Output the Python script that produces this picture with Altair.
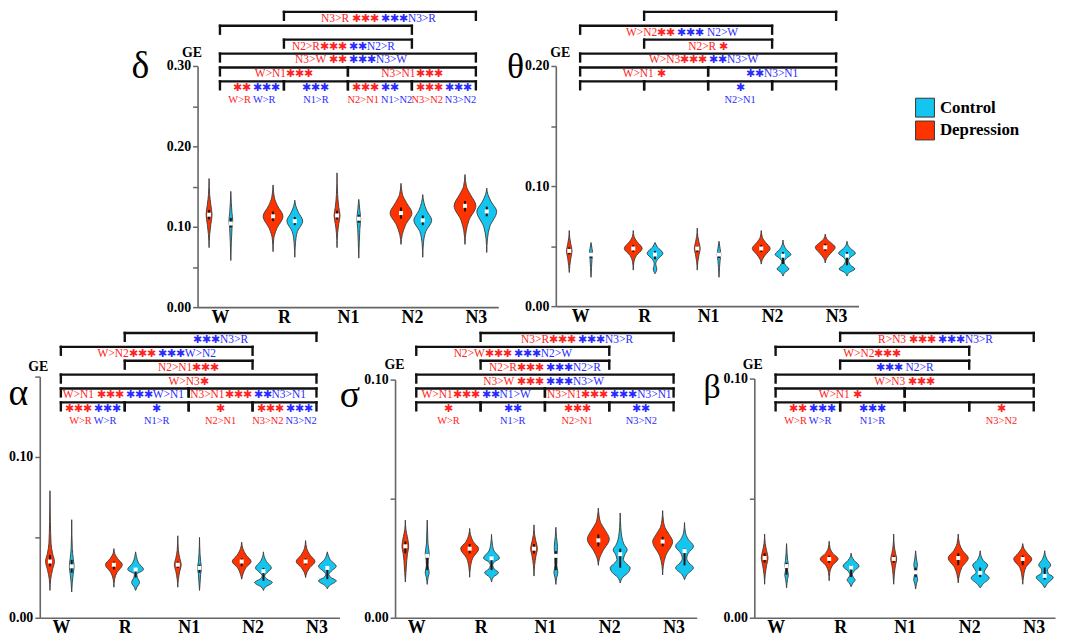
import altair as alt
import pandas as pd

CATS = ["W", "R", "N1", "N2", "N3"]
GROUP_ORDER = ["Control", "Depression"]
GROUP_COLORS = ["#14c6ef", "#ff3300"]
TEXT_RED = "#ff2222"
TEXT_BLUE = "#2a2aff"

# ---------------- δ ----------------
DELTA_TICKS = [0.0, 0.05, 0.10, 0.15, 0.20, 0.25, 0.30]
DELTA_DEP_MED = [0.115, 0.113, 0.114, 0.117, 0.126]
DELTA_DEP_IQR = [(0.109, 0.121), (0.107, 0.119), (0.109, 0.120), (0.110, 0.124), (0.119, 0.132)]
DELTA_DEP_SHAPE = [
    [(0.074, 0), (0.090, 0.6), (0.103, 1.8), (0.115, 3), (0.127, 1.8), (0.140, 0.6), (0.160, 0)],
    [(0.069, 0), (0.085, 0.7), (0.097, 3.5), (0.113, 10), (0.126, 4.5), (0.137, 1.2), (0.152, 0)],
    [(0.074, 0), (0.092, 0.6), (0.104, 1.8), (0.114, 3), (0.124, 1.8), (0.140, 0.6), (0.167, 0)],
    [(0.078, 0), (0.090, 1.2), (0.102, 4.5), (0.117, 11), (0.130, 5.5), (0.140, 1.5), (0.154, 0)],
    [(0.078, 0), (0.095, 1.2), (0.108, 4), (0.126, 11), (0.140, 5.5), (0.150, 1.5), (0.165, 0)],
]
DELTA_CON_MED = [0.104, 0.107, 0.110, 0.108, 0.119]
DELTA_CON_IQR = [(0.099, 0.111), (0.102, 0.112), (0.105, 0.115), (0.102, 0.114), (0.113, 0.125)]
DELTA_CON_SHAPE = [
    [(0.058, 0), (0.080, 0.5), (0.098, 1.2), (0.108, 1.9), (0.118, 1.1), (0.130, 0.5), (0.144, 0)],
    [(0.062, 0), (0.080, 0.7), (0.094, 2.6), (0.107, 8), (0.118, 3.6), (0.126, 1), (0.133, 0)],
    [(0.061, 0), (0.080, 0.5), (0.098, 1.1), (0.110, 1.9), (0.120, 1.1), (0.128, 0.5), (0.134, 0)],
    [(0.062, 0), (0.080, 0.7), (0.094, 3), (0.108, 9), (0.120, 4), (0.130, 1.2), (0.140, 0)],
    [(0.068, 0), (0.085, 0.7), (0.100, 3), (0.119, 10), (0.131, 4.5), (0.140, 1.2), (0.148, 0)],
]
DELTA_BRACKETS = [
    (6, "R", "N3", "N3>R ***", "***N3>R", "", ""),
    (5, "W", "N2", "", "", "", ""),
    (4, "R", "N2", "N2>R***", "**N2>R", "", ""),
    (3, "W", "N3", "N3>W **", "***N3>W", "", ""),
    (2, "W", "N1", "W>N1***", "", "", ""),
    (2, "N1", "N3", "N3>N1***", "", "", ""),
    (1, "W", "R", "**", "***", "W>R", "W>R"),
    (1, "R", "N1", "", "***", "", "N1>R"),
    (1, "N1", "N2", "***", "**", "N2>N1", "N1>N2"),
    (1, "N2", "N3", "***", "***", "N3>N2", "N3>N2"),
]

# ---------------- θ ----------------
THETA_TICKS = [0.0, 0.05, 0.10, 0.15, 0.20]
THETA_DEP_MED = [0.046, 0.048, 0.048, 0.048, 0.049]
THETA_DEP_IQR = [(0.043, 0.049), (0.045, 0.051), (0.045, 0.050), (0.045, 0.051), (0.046, 0.052)]
THETA_DEP_SHAPE = [
    [(0.028, 0), (0.034, 0.6), (0.040, 1.6), (0.046, 2.8), (0.052, 1.5), (0.057, 0.5), (0.063, 0)],
    [(0.030, 0), (0.037, 0.7), (0.042, 3), (0.048, 9), (0.054, 3.5), (0.058, 0.8), (0.063, 0)],
    [(0.030, 0), (0.037, 0.6), (0.043, 1.8), (0.048, 3), (0.053, 1.8), (0.058, 0.6), (0.065, 0)],
    [(0.035, 0), (0.039, 1.2), (0.043, 4.5), (0.048, 9), (0.053, 4.5), (0.057, 1.2), (0.063, 0)],
    [(0.036, 0), (0.040, 1.5), (0.044, 5.5), (0.049, 10), (0.053, 5.5), (0.056, 1.5), (0.060, 0)],
]
THETA_CON_MED = [0.043, 0.043, 0.043, 0.042, 0.042]
THETA_CON_IQR = [(0.040, 0.045), (0.039, 0.046), (0.040, 0.045), (0.035, 0.045), (0.034, 0.045)]
THETA_CON_SHAPE = [
    [(0.024, 0), (0.032, 0.5), (0.039, 1), (0.044, 1.6), (0.048, 1), (0.053, 0)],
    [(0.027, 0), (0.031, 1.8), (0.035, 0.7), (0.039, 2.6), (0.044, 8), (0.049, 2.6), (0.053, 0)],
    [(0.024, 0), (0.032, 0.5), (0.038, 1.1), (0.043, 1.8), (0.048, 1.1), (0.054, 0)],
    [(0.025, 0), (0.028, 1.8), (0.031, 6), (0.034, 2.6), (0.037, 1.2), (0.040, 3.6), (0.043, 8), (0.047, 3.6), (0.051, 0.8), (0.055, 0)],
    [(0.025, 0), (0.028, 2.2), (0.031, 8), (0.034, 3.6), (0.038, 1.6), (0.041, 4), (0.044, 8.5), (0.048, 3.6), (0.051, 0.8), (0.054, 0)],
]
THETA_BRACKETS = [
    (6, "R", "N3", "", "", "", ""),
    (5, "W", "N2", "W>N2**", "*** N2>W", "", ""),
    (4, "R", "N2", "N2>R *", "", "", ""),
    (3, "W", "N3", "W>N3***", "**N3>W", "", ""),
    (2, "W", "N1", "W>N1 *", "", "", ""),
    (2, "N1", "N3", "", "**N3>N1", "", ""),
    (1, "W", "R", "", "", "", ""),
    (1, "R", "N1", "", "", "", ""),
    (1, "N1", "N2", "", "*", "", "N2>N1"),
    (1, "N2", "N3", "", "", "", ""),
]

# ---------------- α ----------------
ALPHA_TICKS = [0.0, 0.05, 0.10, 0.15]
ALPHA_DEP_MED = [0.035, 0.033, 0.033, 0.035, 0.035]
ALPHA_DEP_IQR = [(0.032, 0.039), (0.030, 0.035), (0.031, 0.035), (0.032, 0.037), (0.033, 0.037)]
ALPHA_DEP_SHAPE = [
    [(0.017, 0), (0.024, 0.7), (0.030, 2.6), (0.035, 4.5), (0.040, 2.6), (0.046, 1.1), (0.060, 0.4), (0.079, 0)],
    [(0.019, 0), (0.024, 0.7), (0.028, 3), (0.033, 8.5), (0.037, 3.5), (0.040, 0.8), (0.043, 0)],
    [(0.019, 0), (0.024, 0.6), (0.029, 2), (0.033, 3.5), (0.037, 2), (0.042, 0.6), (0.051, 0)],
    [(0.024, 0), (0.027, 1.2), (0.031, 4), (0.035, 9.5), (0.039, 4.5), (0.043, 1.2), (0.047, 0)],
    [(0.025, 0), (0.028, 1.2), (0.031, 4), (0.035, 9.5), (0.039, 4.5), (0.043, 1.2), (0.048, 0)],
]
ALPHA_CON_MED = [0.032, 0.030, 0.031, 0.029, 0.031]
ALPHA_CON_IQR = [(0.028, 0.036), (0.025, 0.031), (0.028, 0.033), (0.023, 0.031), (0.024, 0.032)]
ALPHA_CON_SHAPE = [
    [(0.016, 0), (0.022, 0.6), (0.027, 1.5), (0.032, 2.4), (0.037, 1.5), (0.043, 0.6), (0.061, 0)],
    [(0.017, 0), (0.019, 1.3), (0.022, 4), (0.025, 1.8), (0.027, 1.2), (0.030, 8), (0.034, 3), (0.038, 0.8), (0.041, 0)],
    [(0.017, 0), (0.022, 0.6), (0.027, 1.1), (0.031, 2), (0.035, 1.1), (0.040, 0.5), (0.050, 0)],
    [(0.017, 0), (0.019, 1.8), (0.022, 9), (0.024, 3.6), (0.026, 1.2), (0.028, 3.6), (0.031, 8), (0.035, 3), (0.038, 0.8), (0.041, 0)],
    [(0.018, 0), (0.020, 2.2), (0.023, 9), (0.025, 3.6), (0.027, 1.6), (0.029, 4), (0.032, 9), (0.036, 3), (0.039, 0.8), (0.041, 0)],
]
ALPHA_BRACKETS = [
    (6, "R", "N3", "", "***N3>R", "", ""),
    (5, "W", "N2", "W>N2***", "***W>N2", "", ""),
    (4, "R", "N2", "N2>N1***", "", "", ""),
    (3, "W", "N3", "W>N3*", "", "", ""),
    (2, "W", "N1", "W>N1 ***", "***W>N1", "", ""),
    (2, "N1", "N3", "N3>N1***", "**N3>N1", "", ""),
    (1, "W", "R", "***", "***", "W>R", "W>R"),
    (1, "R", "N1", "", "*", "", "N1>R"),
    (1, "N1", "N2", "*", "", "N2>N1", ""),
    (1, "N2", "N3", "***", "***", "N3>N2", "N3>N2"),
]

# ---------------- σ ----------------
SIGMA_TICKS = [0.0, 0.05, 0.10]
SIGMA_DEP_MED = [0.030, 0.029, 0.029, 0.0325, 0.032]
SIGMA_DEP_IQR = [(0.027, 0.032), (0.027, 0.031), (0.027, 0.031), (0.030, 0.035), (0.030, 0.034)]
SIGMA_DEP_SHAPE = [
    [(0.015, 0), (0.019, 0.6), (0.024, 1.4), (0.027, 2.2), (0.030, 3.4), (0.034, 2), (0.037, 0.6), (0.041, 0)],
    [(0.017, 0), (0.021, 0.7), (0.025, 3), (0.029, 9), (0.032, 3.5), (0.035, 0.8), (0.0375, 0)],
    [(0.0175, 0), (0.022, 0.6), (0.026, 2), (0.029, 3.4), (0.032, 2), (0.035, 0.6), (0.039, 0)],
    [(0.022, 0), (0.025, 1.2), (0.028, 4.5), (0.033, 11), (0.037, 6.5), (0.040, 2.2), (0.043, 0.7), (0.046, 0)],
    [(0.018, 0), (0.022, 0.7), (0.026, 3), (0.032, 10), (0.035, 6.5), (0.038, 2.2), (0.041, 0.7), (0.045, 0)],
]
SIGMA_CON_MED = [0.026, 0.025, 0.026, 0.0267, 0.028]
SIGMA_CON_IQR = [(0.020, 0.027), (0.020, 0.026), (0.020, 0.028), (0.021, 0.029), (0.022, 0.029)]
SIGMA_CON_SHAPE = [
    [(0.014, 0), (0.017, 0.9), (0.019, 2), (0.022, 0.8), (0.024, 1), (0.027, 2), (0.031, 0.8), (0.036, 0.4), (0.041, 0)],
    [(0.015, 0), (0.017, 1.8), (0.019, 7), (0.0205, 2.6), (0.022, 1.2), (0.0235, 3), (0.025, 8), (0.028, 2.6), (0.031, 0.8), (0.035, 0)],
    [(0.014, 0), (0.017, 0.9), (0.019, 2), (0.022, 0.9), (0.026, 1.2), (0.030, 1.6), (0.034, 0.6), (0.038, 0)],
    [(0.0146, 0), (0.017, 2.6), (0.019, 8), (0.021, 10), (0.023, 5.5), (0.0245, 3.2), (0.0265, 4.6), (0.0285, 7), (0.031, 3.6), (0.034, 1.6), (0.038, 0.6), (0.044, 0)],
    [(0.016, 0), (0.018, 2.2), (0.021, 9), (0.023, 4.5), (0.025, 2.2), (0.027, 3.6), (0.030, 9), (0.033, 3.6), (0.036, 0.8), (0.040, 0)],
]
SIGMA_BRACKETS = [
    (6, "R", "N3", "N3>R***", "***N3>R", "", ""),
    (5, "W", "N2", "N2>W***", "***N2>W", "", ""),
    (4, "R", "N2", "N2>R***", "***N2>R", "", ""),
    (3, "W", "N3", "N3>W ***", "***N3>W", "", ""),
    (2, "W", "N1", "W>N1***", "**N1>W", "", ""),
    (2, "N1", "N3", "N3>N1***", "***N3>N1", "", ""),
    (1, "W", "R", "*", "", "W>R", ""),
    (1, "R", "N1", "", "**", "", "N1>R"),
    (1, "N1", "N2", "***", "", "N2>N1", ""),
    (1, "N2", "N3", "", "**", "", "N3>N2"),
]

# ---------------- β ----------------
BETA_TICKS = [0.0, 0.05, 0.10]
BETA_DEP_MED = [0.025, 0.0246, 0.0246, 0.025, 0.0246]
BETA_DEP_IQR = [(0.023, 0.027), (0.023, 0.026), (0.023, 0.026), (0.022, 0.027), (0.022, 0.026)]
BETA_DEP_SHAPE = [
    [(0.014, 0), (0.018, 0.6), (0.022, 2), (0.025, 3.4), (0.028, 2), (0.031, 0.6), (0.035, 0)],
    [(0.0155, 0), (0.019, 0.7), (0.022, 3.5), (0.0246, 9), (0.027, 3.5), (0.029, 1), (0.032, 0)],
    [(0.014, 0), (0.018, 0.6), (0.022, 1.8), (0.0246, 3), (0.027, 1.8), (0.030, 0.6), (0.035, 0)],
    [(0.0146, 0), (0.018, 1.2), (0.021, 3.6), (0.025, 10), (0.028, 4.5), (0.031, 1.2), (0.035, 0)],
    [(0.014, 0), (0.017, 0.7), (0.021, 3), (0.0246, 9), (0.027, 4.5), (0.029, 1.2), (0.031, 0)],
]
BETA_CON_MED = [0.0216, 0.021, 0.019, 0.0188, 0.0175]
BETA_CON_IQR = [(0.018, 0.023), (0.017, 0.022), (0.017, 0.021), (0.017, 0.021), (0.016, 0.021)]
BETA_CON_SHAPE = [
    [(0.0125, 0), (0.016, 0.9), (0.018, 1.8), (0.020, 1), (0.022, 1.8), (0.024, 1.1), (0.027, 0.5), (0.031, 0)],
    [(0.013, 0), (0.0145, 1.8), (0.0158, 4), (0.017, 2.2), (0.018, 1.2), (0.0195, 3), (0.0216, 8), (0.024, 3), (0.0255, 0.8), (0.027, 0)],
    [(0.012, 0), (0.0145, 1), (0.016, 2), (0.018, 1.1), (0.020, 1.1), (0.022, 1.8), (0.025, 0.7), (0.028, 0)],
    [(0.0125, 0), (0.014, 2.6), (0.0167, 9), (0.019, 4), (0.022, 7.5), (0.024, 3), (0.026, 0.8), (0.028, 0)],
    [(0.0125, 0), (0.014, 2.2), (0.017, 8.5), (0.0185, 3.6), (0.020, 2.8), (0.022, 6), (0.0245, 2.2), (0.026, 0.8), (0.028, 0)],
]
BETA_BRACKETS = [
    (6, "R", "N3", "R>N3 ***", "***N3>R", "", ""),
    (5, "W", "N2", "W>N2***", "", "", ""),
    (4, "R", "N2", "", "*** N2>R", "", ""),
    (3, "W", "N3", "W>N3 ***", "", "", ""),
    (2, "W", "N1", "W>N1 *", "", "", ""),
    (2, "N1", "N3", "", "", "", ""),
    (1, "W", "R", "**", "***", "W>R", "W>R"),
    (1, "R", "N1", "", "***", "", "N1>R"),
    (1, "N1", "N2", "", "", "", ""),
    (1, "N2", "N3", "*", "", "N3>N2", ""),
]

# ---------------- layout (style only) ----------------
W_CHART, H_CHART = 1057, 633
GROUP_OFFSET = 0.17      # horizontal offset of each group from the category centre
WIDTH_SCALE = 0.0155     # density width -> category units
STAR = "\u2731"
SERIF = "Liberation Serif"
MAIN_FONT, SUB_FONT = 11.5, 10.5

LAYOUT = {
    "δ": dict(x_px=(191, 494), x_dom=(-0.35, 4.35), y_px=(299, 56), lvl_px=(71.5, 1.5),
              ge=(-6, 42), glyph=(-58, 57, 38)),
    "θ": dict(x_px=(552, 857), x_dom=(-0.38, 4.35), y_px=(298, 56), lvl_px=(71.5, 1.5),
              ge=(4, 42), glyph=(-41, 57, 36)),
    "α": dict(x_px=(32, 334), x_dom=(-0.33, 4.36), y_px=(612, 369), lvl_px=(395, 325),
              ge=(-2, 359), glyph=(-22, 386, 38)),
    "σ": dict(x_px=(390, 694), x_dom=(-0.33, 4.36), y_px=(612, 372), lvl_px=(395, 325),
              ge=(-1, 357), glyph=(-46, 388, 38)),
    "β": dict(x_px=(752, 1055), x_dom=(-0.33, 4.33), y_px=(612, 371), lvl_px=(395, 325),
              ge=(-2, 357), glyph=(-43, 380, 34)),
}

COLOR_SCALE = alt.Scale(domain=GROUP_ORDER, range=GROUP_COLORS)
LEGEND = alt.Legend(orient="none", legendX=914, legendY=88, title=None, symbolType="square",
                    symbolSize=361, symbolStrokeColor="#333333", symbolStrokeWidth=1,
                    symbolOpacity=1, labelFont=SERIF, labelFontSize=17, labelFontWeight="bold",
                    labelColor="black", rowPadding=-1, labelOffset=5, padding=0)

X_LABEL_EXPR = "[" + ",".join("'%s'" % c for c in CATS) + "][datum.value]"
Y_LABEL_EXPR = "abs(round(datum.value*20)) % 2 == 0 ? format(datum.value, '.2f') : ''"
OFF_EXPR = f"(datum.grp == 'Depression' ? {-GROUP_OFFSET} : {GROUP_OFFSET})"


def violin_frame(dep_shape, con_shape):
    rows = []
    for grp, shapes in (("Depression", dep_shape), ("Control", con_shape)):
        for i, prof in enumerate(shapes):
            for v, w in prof:
                rows.append({"vid": f"{grp}-{CATS[i]}", "idx": i, "grp": grp, "v": v, "w": w})
    return pd.DataFrame(rows)


def stat_frame(dep_med, dep_iqr, con_med, con_iqr):
    rows = []
    for grp, med, iqr in (("Depression", dep_med, dep_iqr), ("Control", con_med, con_iqr)):
        for i in range(len(CATS)):
            rows.append({"idx": i, "grp": grp, "med": med[i], "q1": iqr[i][0], "q3": iqr[i][1]})
    return pd.DataFrame(rows)


def bracket_frames(brackets):
    lines, ends, texts = [], [], []
    for level, a, b, red, blue, red_sub, blue_sub in brackets:
        ia, ib = CATS.index(a), CATS.index(b)
        lines.append({"level": level, "a": ia, "b": ib})
        ends.append({"level": level, "pos": ia})
        ends.append({"level": level, "pos": ib})
        mid = (ia + ib) / 2
        for kind, r, bl in (("main", red, blue), ("sub", red_sub, blue_sub)):
            both = bool(r) and bool(bl)
            if r:
                texts.append({"level": level, "xt": mid, "grp": "Depression", "kind": kind,
                              "anchor": "right" if both else "center", "text": r.replace("*", STAR)})
            if bl:
                texts.append({"level": level, "xt": mid, "grp": "Control", "kind": kind,
                              "anchor": "left" if both else "center", "text": bl.replace("*", STAR)})
    return pd.DataFrame(lines), pd.DataFrame(ends), pd.DataFrame(texts)


def panel(name, ticks, dep_med, dep_iqr, dep_shape, con_med, con_iqr, con_shape, brackets):
    lay = LAYOUT[name]
    x0, x1 = lay["x_px"]
    yb, yt = lay["y_px"]
    xs = alt.Scale(domain=list(lay["x_dom"]), range=[x0, x1], nice=False, zero=False)
    ys = alt.Scale(domain=[ticks[0], ticks[-1]], range=[yb, yt], nice=False, zero=False)
    ls = alt.Scale(domain=[1, 6], range=list(lay["lvl_px"]), nice=False, zero=False)

    xaxis = alt.Axis(orient="bottom", offset=yb - H_CHART, values=list(range(len(CATS))),
                     labelExpr=X_LABEL_EXPR, ticks=False, domainColor="#666666", domainWidth=1.6,
                     labelFont=SERIF, labelFontSize=18, labelFontWeight="bold", labelColor="black",
                     labelPadding=1, title=None, grid=False, labelFlush=False, labelOverlap=False)
    yaxis = alt.Axis(orient="left", offset=-x0, values=ticks, labelExpr=Y_LABEL_EXPR,
                     tickSize=5, tickColor="#666666", tickWidth=1.5, domainColor="#666666",
                     domainWidth=1.6, labelFont=SERIF, labelFontSize=14, labelFontWeight="bold",
                     labelColor="black", labelPadding=2, grid=False, title="GE", titleAngle=0,
                     titleX=lay["ge"][0], titleY=lay["ge"][1], titleFont=SERIF, titleFontSize=14,
                     titleFontWeight="bold", titleColor="black", titleAlign="center",
                     titleBaseline="middle", labelFlush=False, labelOverlap=False)
    gx, gy, gsize = lay["glyph"]
    glyph_axis = alt.Axis(orient="left", offset=-x0, domain=False, ticks=False, labels=False,
                          grid=False, title=name, titleAngle=0, titleX=gx, titleY=gy,
                          titleFont=SERIF, titleFontSize=gsize, titleFontWeight="normal",
                          titleColor="black", titleAlign="center", titleBaseline="middle")

    vdf = violin_frame(dep_shape, con_shape)
    sdf = stat_frame(dep_med, dep_iqr, con_med, con_iqr)
    ldf, edf, tdf = bracket_frames(brackets)

    violin = alt.Chart(vdf).transform_calculate(
        xc="datum.idx + " + OFF_EXPR
    ).transform_calculate(
        xl=f"datum.xc - datum.w * {WIDTH_SCALE}", xr=f"datum.xc + datum.w * {WIDTH_SCALE}"
    ).mark_area(orient="horizontal", interpolate="monotone", stroke="#3a3a3a",
                strokeWidth=0.9, fillOpacity=1).encode(
        x=alt.X("xl:Q", scale=xs, stack=None, axis=xaxis),
        x2="xr:Q",
        y=alt.Y("v:Q", scale=ys, axis=yaxis),
        color=alt.Color("grp:N", scale=COLOR_SCALE, legend=LEGEND),
        detail="vid:N",
    )

    box = alt.Chart(sdf).transform_calculate(xc="datum.idx + " + OFF_EXPR).mark_rule(
        color="#1a1a1a", strokeWidth=2).encode(
        x=alt.X("xc:Q", scale=xs, axis=None),
        y=alt.Y("q1:Q", scale=ys, axis=None),
        y2="q3:Q",
    )
    med = alt.Chart(sdf).transform_calculate(xc="datum.idx + " + OFF_EXPR).mark_point(
        shape="square", filled=True, color="white", size=16, opacity=1).encode(
        x=alt.X("xc:Q", scale=xs, axis=None),
        y=alt.Y("med:Q", scale=ys, axis=glyph_axis),
    )

    blines = alt.Chart(ldf).mark_rule(color="#111111", strokeWidth=2.4, strokeCap="square").encode(
        x=alt.X("a:Q", scale=xs, axis=None), x2="b:Q",
        y=alt.Y("level:Q", scale=ls, axis=None),
    )
    bends = alt.Chart(edf).transform_calculate(lo="datum.level - 0.57").mark_rule(
        color="#111111", strokeWidth=2.4, strokeCap="square").encode(
        x=alt.X("pos:Q", scale=xs, axis=None),
        y=alt.Y("level:Q", scale=ls, axis=None), y2="lo:Q",
    )

    layers = [blines, bends]
    for kind, fsize, dy in (("main", MAIN_FONT, 10), ("sub", SUB_FONT, 22)):
        for anchor, dx in (("right", -1), ("left", 1), ("center", 0)):
            layers.append(
                alt.Chart(tdf).transform_filter(
                    (alt.datum.anchor == anchor) & (alt.datum.kind == kind)
                ).mark_text(align=anchor, baseline="alphabetic", dx=dx, dy=dy, font=SERIF,
                            fontSize=fsize).encode(
                    x=alt.X("xt:Q", scale=xs, axis=None),
                    y=alt.Y("level:Q", scale=ls, axis=None),
                    text="text:N",
                    color=alt.condition(alt.datum.grp == "Depression", alt.value(TEXT_RED),
                                        alt.value(TEXT_BLUE)),
                )
            )
    layers += [violin, box, med]
    return layers


all_layers = []
all_layers += panel("δ", DELTA_TICKS, DELTA_DEP_MED, DELTA_DEP_IQR, DELTA_DEP_SHAPE,
                    DELTA_CON_MED, DELTA_CON_IQR, DELTA_CON_SHAPE, DELTA_BRACKETS)
all_layers += panel("θ", THETA_TICKS, THETA_DEP_MED, THETA_DEP_IQR, THETA_DEP_SHAPE,
                    THETA_CON_MED, THETA_CON_IQR, THETA_CON_SHAPE, THETA_BRACKETS)
all_layers += panel("α", ALPHA_TICKS, ALPHA_DEP_MED, ALPHA_DEP_IQR, ALPHA_DEP_SHAPE,
                    ALPHA_CON_MED, ALPHA_CON_IQR, ALPHA_CON_SHAPE, ALPHA_BRACKETS)
all_layers += panel("σ", SIGMA_TICKS, SIGMA_DEP_MED, SIGMA_DEP_IQR, SIGMA_DEP_SHAPE,
                    SIGMA_CON_MED, SIGMA_CON_IQR, SIGMA_CON_SHAPE, SIGMA_BRACKETS)
all_layers += panel("β", BETA_TICKS, BETA_DEP_MED, BETA_DEP_IQR, BETA_DEP_SHAPE,
                    BETA_CON_MED, BETA_CON_IQR, BETA_CON_SHAPE, BETA_BRACKETS)

chart = alt.layer(*all_layers).resolve_scale(
    x="independent", y="independent", color="shared"
).properties(
    width=W_CHART, height=H_CHART, autosize=alt.AutoSizeParams(type="none"), padding=0
).configure_view(stroke=None)

chart.save("out.html", embed_options={"renderer": "svg", "actions": False})
